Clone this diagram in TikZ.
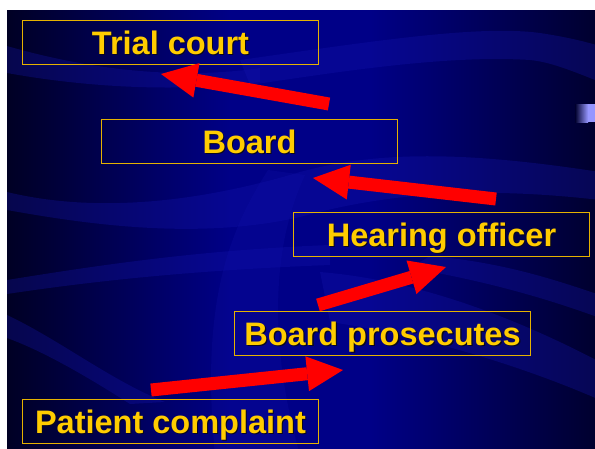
\documentclass[tikz,border=0pt]{standalone}
\usepackage{fontspec}
\setmainfont{Liberation Sans}
\usetikzlibrary{arrows.meta}
\definecolor{navyA}{RGB}{0,0,36}
\definecolor{navyB}{RGB}{0,0,135}
\definecolor{navyC}{RGB}{0,0,45}
\definecolor{ribbon}{RGB}{20,20,175}
\definecolor{shadowcol}{RGB}{10,8,30}
\definecolor{boxline}{RGB}{230,178,0}
\definecolor{gold}{RGB}{255,204,0}
\definecolor{arrowred}{RGB}{255,0,0}
\definecolor{lav}{RGB}{150,150,255}
\begin{document}
\begin{tikzpicture}[x=1pt,y=-1pt,
  stagebox/.style={minimum width=296pt, minimum height=44pt,
    inner sep=0pt, text=gold, font=\fontsize{32.5}{39}\selectfont\bfseries,
    text height=23.3pt, text depth=0pt},
  frame/.style={draw=boxline, line width=1.3pt},
  shadowtext/.style={inner sep=0pt, text=shadowcol,
    font=\fontsize{32.5}{39}\selectfont\bfseries, text height=23.3pt, text depth=0pt},
  bigarrow/.style={draw=arrowred, line width=13pt,
    -{Triangle[width=35pt,length=36pt,line width=0pt]}},
  rib/.style={fill=ribbon, fill opacity=0.3}]
\useasboundingbox (0,0) rectangle (595,448);
\fill[white] (-5,-5) rectangle (600,455);
\shade[left color=navyA, right color=navyB] (7,10) rectangle (230,455);
\fill[navyB] (229.5,10) rectangle (370.5,455);
\shade[left color=navyB, right color=navyC] (370,10) rectangle (600,455);
% ribbons
\begin{scope}
  \clip (7,10) rectangle (600,455);
  \fill[rib] (7,46) .. controls (90,70) and (180,80) .. (260,68)
     -- (260,82) .. controls (180,92) and (90,88) .. (7,73) -- cycle;
  \fill[rib] (240,60) .. controls (380,40) and (480,25) .. (540,33) .. controls (560,36) and (580,40) .. (600,46)
     -- (600,82) .. controls (570,70) and (550,62) .. (530,60) .. controls (450,55) and (350,70) .. (250,85) -- cycle;
  \fill[rib] (7,192) .. controls (90,212) and (190,205) .. (300,172) .. controls (380,150) and (470,152) .. (600,172)
     -- (600,200) .. controls (470,185) and (380,195) .. (300,217) .. controls (200,240) and (90,225) .. (7,210) -- cycle;
  \fill[rib] (7,280) .. controls (100,265) and (200,250) .. (330,245)
     -- (330,265) .. controls (200,270) and (100,280) .. (7,294) -- cycle;
  \fill[rib] (7,315) .. controls (60,340) and (110,380) .. (165,402)
     -- (130,404) .. controls (80,372) and (40,350) .. (7,338) -- cycle;
  \fill[rib, fill opacity=0.2] (268,170) .. controls (230,230) and (200,300) .. (215,455)
     -- (300,455) .. controls (270,350) and (270,250) .. (305,175) -- cycle;
  \fill[rib] (320,272) .. controls (420,280) and (520,320) .. (600,362)
     -- (600,400) .. controls (520,365) and (420,335) .. (330,322) -- cycle;
  \fill[rib] (430,256) .. controls (500,262) and (550,278) .. (600,295)
     -- (600,318) .. controls (540,296) and (480,280) .. (410,268) -- cycle;
\end{scope}
% small lavender strip at the right edge
\shade[left color=navyC, right color=lav] (575,104) rectangle (588,122);
\fill[lav] (588,104) rectangle (600,122);
% text shadows
\node[shadowtext] (trialS) at (171.5,43.5) {Trial court};
\node[shadowtext] (boardS) at (250.5,142.5) {Board};
\node[shadowtext] (hearingS) at (442.5,235.8) {Hearing officer};
\node[shadowtext] (prosecutesS) at (383.8,334.8) {Board prosecutes};
\node[shadowtext] (complaintS) at (171.5,422.8) {Patient complaint};
% boxes
\node[stagebox] (trial) at (170.5,42.5) {Trial court};
\node[stagebox] (board) at (249.5,141.5) {Board};
\node[stagebox] (hearing) at (441.5,234.5) {Hearing officer};
\node[stagebox] (prosecutes) at (382.5,333.5) {Board prosecutes};
\node[stagebox] (complaint) at (170.5,421.5) {Patient complaint};
\foreach \b in {trial,board,hearing,prosecutes,complaint}
  \draw[frame] (\b.north west) rectangle (\b.south east);
% arrows
\coordinate (a1t) at (329,104); \coordinate (a1h) at (161,74);
\coordinate (a2t) at (496,199); \coordinate (a2h) at (313,178);
\coordinate (a3t) at (318,305); \coordinate (a3h) at (446,267);
\coordinate (a4t) at (151,390); \coordinate (a4h) at (343,370);
\draw[bigarrow] (a1t) -- (a1h);
\draw[bigarrow] (a2t) -- (a2h);
\draw[bigarrow] (a3t) -- (a3h);
\draw[bigarrow] (a4t) -- (a4h);
\end{tikzpicture}
\end{document}
